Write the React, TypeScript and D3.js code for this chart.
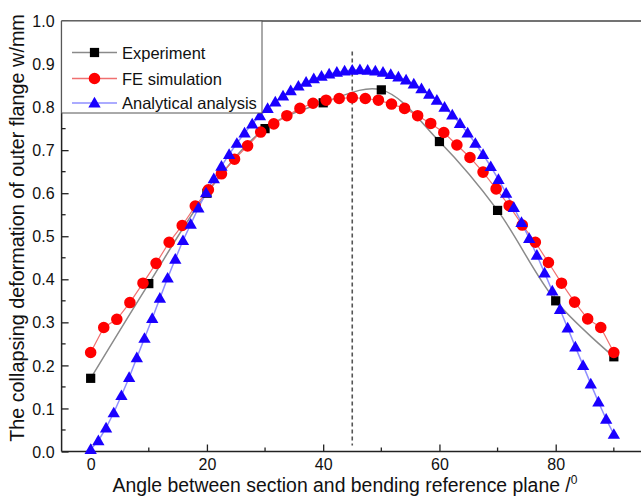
import React, { useEffect, useRef } from "react";
import * as d3 from "d3";

// Experiment (black squares)
const expAngles = [0, 10, 20, 30, 40, 50, 60, 70, 80, 90];
const expValues = [0.17, 0.39, 0.6, 0.75, 0.81, 0.84, 0.72, 0.56, 0.35, 0.22];

// FE simulation (red circles)
const feAngles = [
  0, 2.25, 4.5, 6.75, 9, 11.25, 13.5, 15.75, 18, 20.25, 22.5, 24.75, 27, 29.25,
  31.5, 33.75, 36, 38.25, 40.5, 42.75, 45, 47.25, 49.5, 51.75, 54, 56.25, 58.5,
  60.75, 63, 65.25, 67.5, 69.75, 72, 74.25, 76.5, 78.75, 81, 83.25, 85.5, 87.75, 90,
];
const feValues = [
  0.23, 0.288, 0.307, 0.346, 0.391, 0.437, 0.486, 0.525, 0.57, 0.608, 0.645,
  0.679, 0.71, 0.742, 0.761, 0.78, 0.797, 0.809, 0.816, 0.82, 0.822, 0.82, 0.816,
  0.807, 0.797, 0.78, 0.762, 0.741, 0.712, 0.683, 0.649, 0.61, 0.571, 0.526,
  0.486, 0.439, 0.391, 0.347, 0.308, 0.288, 0.23,
];

// Analytical analysis (blue triangles)
const anAngles = [
  0, 1.32, 2.65, 3.97, 5.29, 6.62, 7.94, 9.26, 10.59, 11.91, 13.24, 14.56, 15.88,
  17.21, 18.53, 19.85, 21.18, 22.5, 23.82, 25.15, 26.47, 27.79, 29.12, 30.44,
  31.76, 33.09, 34.41, 35.74, 37.06, 38.38, 39.71, 41.03, 42.35, 43.68, 45,
  46.32, 47.65, 48.97, 50.29, 51.62, 52.94, 54.26, 55.59, 56.91, 58.24, 59.56,
  60.88, 62.21, 63.53, 64.85, 66.18, 67.5, 68.82, 70.15, 71.47, 72.79, 74.12,
  75.44, 76.76, 78.09, 79.41, 80.74, 82.06, 83.38, 84.71, 86.03, 87.35, 88.68, 90,
];
const anValues = [
  0.005, 0.025, 0.055, 0.09, 0.13, 0.172, 0.218, 0.263, 0.309, 0.356, 0.403,
  0.447, 0.49, 0.528, 0.566, 0.601, 0.634, 0.663, 0.69, 0.716, 0.74, 0.761, 0.78,
  0.797, 0.812, 0.826, 0.838, 0.849, 0.858, 0.866, 0.872, 0.877, 0.881, 0.884,
  0.886, 0.887, 0.886, 0.884, 0.881, 0.876, 0.87, 0.863, 0.854, 0.843, 0.83,
  0.816, 0.8, 0.782, 0.762, 0.74, 0.716, 0.69, 0.662, 0.632, 0.6, 0.567, 0.532,
  0.495, 0.456, 0.415, 0.373, 0.33, 0.287, 0.243, 0.2, 0.157, 0.115, 0.075, 0.04,
];

const xTicks = [0, 20, 40, 60, 80];
const xMinor = [10, 30, 50, 70, 90];
const yTicks = [0, 0.1, 0.2, 0.3, 0.4, 0.5, 0.6, 0.7, 0.8, 0.9, 1.0];
const yMinor = [0.05, 0.15, 0.25, 0.35, 0.45, 0.55, 0.65, 0.75, 0.85, 0.95];
const legendNames = ["Experiment", "FE simulation", "Analytical analysis"];

const FONT = "Arial, 'Liberation Sans', sans-serif";

export default function App() {
  const ref = useRef<SVGSVGElement>(null);

  useEffect(() => {
    const svg = d3.select(ref.current);
    svg.selectAll("*").remove();

    const x = d3.scaleLinear().domain([-5, 95]).range([61.6, 642.9]);
    const y = d3.scaleLinear().domain([0, 1]).range([451.5, 21]);

    svg.append("rect").attr("width", 641).attr("height", 499).attr("fill", "#fff");

    // top frame line
    svg.append("line")
      .attr("x1", x(-5)).attr("x2", 641)
      .attr("y1", y(1)).attr("y2", y(1))
      .attr("stroke", "#444").attr("stroke-width", 1.5);

    // axes, ticks pointing inward
    const xAxis = d3.axisBottom(x).tickValues(xTicks).tickSize(-7).tickFormat(d3.format("d"));
    const gx = svg.append("g").attr("transform", `translate(0,${y(0)})`).call(xAxis);
    gx.select(".domain").attr("stroke", "#222").attr("stroke-width", 1.5).attr("d", `M${x(-5)},0H641`);
    gx.selectAll(".tick line").attr("stroke", "#222").attr("stroke-width", 1.3);
    gx.selectAll(".tick text")
      .attr("y", 18).attr("dy", 0)
      .attr("font-size", 16).attr("font-family", FONT).attr("fill", "#111");
    gx.selectAll(".minor")
      .data(xMinor).enter().append("line")
      .attr("x1", (d) => x(d)).attr("x2", (d) => x(d))
      .attr("y1", 0).attr("y2", -4)
      .attr("stroke", "#222").attr("stroke-width", 1.3);

    const yAxis = d3.axisLeft(y).tickValues(yTicks).tickSize(-7).tickFormat(d3.format(".1f"));
    const gy = svg.append("g").attr("transform", `translate(${x(-5)},0)`).call(yAxis);
    gy.select(".domain").attr("stroke", "#222").attr("stroke-width", 1.5).attr("d", `M0,${y(0)}V${y(1)}`);
    gy.selectAll(".tick line").attr("stroke", "#222").attr("stroke-width", 1.3);
    gy.selectAll(".tick text")
      .attr("x", -7).attr("dy", "0.35em")
      .attr("font-size", 16).attr("font-family", FONT).attr("fill", "#111");
    gy.selectAll(".minor")
      .data(yMinor).enter().append("line")
      .attr("x1", 0).attr("x2", 4)
      .attr("y1", (d) => y(d)).attr("y2", (d) => y(d))
      .attr("stroke", "#222").attr("stroke-width", 1.3);

    // axis titles
    svg.append("text")
      .attr("x", 345).attr("y", 492)
      .attr("text-anchor", "middle")
      .attr("font-size", 19.4).attr("font-family", FONT).attr("fill", "#111")
      .text("Angle between section and bending reference plane /")
      .append("tspan").attr("dy", -8).attr("font-size", 12).text("0");

    svg.append("text")
      .attr("transform", "translate(24,228) rotate(-90)")
      .attr("text-anchor", "middle")
      .attr("font-size", 19.8).attr("font-family", FONT).attr("fill", "#111")
      .text("The collapsing deformation of outer flange w/mm");

    // dashed line at 45 degrees
    svg.append("line")
      .attr("x1", x(45)).attr("x2", x(45))
      .attr("y1", 51.5).attr("y2", y(0) - 6)
      .attr("stroke", "#555").attr("stroke-width", 1.6)
      .attr("stroke-dasharray", "4,3");

    const pts = (a: number[], v: number[]) => a.map((d, i) => [d, v[i]] as [number, number]);
    const exp = pts(expAngles, expValues);
    const fe = pts(feAngles, feValues);
    const an = pts(anAngles, anValues);

    const line = d3.line<[number, number]>().x((d) => x(d[0])).y((d) => y(d[1]));
    const smooth = d3.line<[number, number]>().x((d) => x(d[0])).y((d) => y(d[1])).curve(d3.curveCatmullRom.alpha(0.5));

    const sq = d3.symbol().type(d3.symbolSquare).size(85);
    const circ = d3.symbol().type(d3.symbolCircle).size(105);
    const tri = d3.symbol().type(d3.symbolTriangle).size(66);

    svg.append("path").datum(exp).attr("d", smooth).attr("fill", "none").attr("stroke", "#8a8a8a").attr("stroke-width", 1.5);
    svg.append("path").datum(fe).attr("d", line).attr("fill", "none").attr("stroke", "#f07070").attr("stroke-width", 1.2);
    svg.append("path").datum(an).attr("d", line).attr("fill", "none").attr("stroke", "#8f8fff").attr("stroke-width", 1.5);

    svg.append("g").selectAll("path").data(exp).enter().append("path")
      .attr("d", sq).attr("transform", (d) => `translate(${x(d[0])},${y(d[1])})`).attr("fill", "#000");
    svg.append("g").selectAll("path").data(fe).enter().append("path")
      .attr("d", circ).attr("transform", (d) => `translate(${x(d[0])},${y(d[1])})`).attr("fill", "#ff0000");
    svg.append("g").selectAll("path").data(an).enter().append("path")
      .attr("d", tri).attr("transform", (d) => `translate(${x(d[0])},${y(d[1]) + 1})`).attr("fill", "#1a00ff");

    // legend
    const lg = svg.append("g");
    lg.append("rect")
      .attr("x", x(-5)).attr("y", y(1))
      .attr("width", 262 - x(-5)).attr("height", 113 - y(1))
      .attr("fill", "#fff").attr("stroke", "#555").attr("stroke-width", 1);
    const rowY = [52.5, 78.5, 103];
    const lineCols = ["#8a8a8a", "#f07070", "#8f8fff"];
    const syms = [sq, circ, tri];
    const fills = ["#000", "#ff0000", "#1a00ff"];
    legendNames.forEach((name, i) => {
      lg.append("line")
        .attr("x1", 72).attr("x2", 117).attr("y1", rowY[i]).attr("y2", rowY[i])
        .attr("stroke", lineCols[i]).attr("stroke-width", 1.5);
      lg.append("path").attr("d", syms[i]).attr("fill", fills[i])
        .attr("transform", `translate(94.5,${rowY[i] + (i === 2 ? 1 : 0)})`);
      lg.append("text")
        .attr("x", 122).attr("y", rowY[i] + 6)
        .attr("font-size", 16.5).attr("font-family", FONT).attr("fill", "#111")
        .text(name);
    });
  }, []);

  return (
    <svg
      ref={ref}
      width={641}
      height={499}
      style={{ position: "absolute", left: 0, top: 0, display: "block" }}
    />
  );
}
